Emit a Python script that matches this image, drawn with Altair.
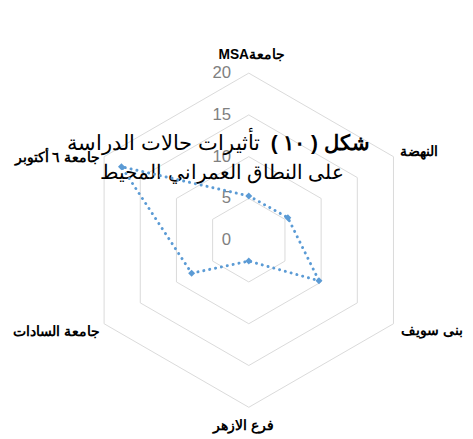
import altair as alt
import pandas as pd
import numpy as np

# ---- data ----
categories = ["جامعةMSA", "النهضة", "بنى سويف", "فرع الازهر", "جامعة السادات", "جامعة ٦ أكتوبر"]
values = [5.3, 5.4, 9.7, 2.5, 7.9, 17.6]
ring_values = [5, 10, 15, 20]
tick_values = [0, 5, 10, 15, 20]
tick_labels = ["0", "5", "10", "15", "20"]
title_bold = "شكل ( ١٠ )"
title_rest = "تأثيرات حالات الدراسة"
title_line2 = "على النطاق العمراني المحيط"

RLE, PDF = "\u202b", "\u202c"
def rtl(s):
    return RLE + s + PDF

n = len(categories)
angles = np.deg2rad([90 - 60 * i for i in range(n)])
R = 20

# scales: 1 unit = 8.5 px, centre at plot (245, 232.5)
W, H = 465, 431
U = 8.5
cx, cy = 245, 232.5
xs = alt.Scale(domain=[-cx / U, (W - cx) / U], nice=False, zero=False)
ys = alt.Scale(domain=[-(H - cy) / U, cy / U], nice=False, zero=False)
X = lambda f: alt.X(f, type="quantitative", scale=xs, axis=None)
Y = lambda f: alt.Y(f, type="quantitative", scale=ys, axis=None)

# grid hexagons
grid_rows = []
for r in ring_values:
    for k in range(n + 1):
        a = angles[k % n]
        grid_rows.append({"ring": r, "o": k, "x": r * np.cos(a), "y": r * np.sin(a)})
grid = alt.Chart(pd.DataFrame(grid_rows)).mark_line(color="#D9D9D9", strokeWidth=1).encode(
    x=X("x"), y=Y("y"), detail="ring:N", order="o:Q")

# tick labels
tick_df = pd.DataFrame({"v": tick_values, "label": tick_labels, "x": [0] * len(tick_values)})
ticks = alt.Chart(tick_df).mark_text(align="right", baseline="middle", dx=-18, fontSize=17,
                                     color="#808080", font="Liberation Sans").encode(
    x=X("x"), y=Y("v"), text="label:N")

# series
ser_rows = []
for k in range(n + 1):
    i = k % n
    ser_rows.append({"o": k, "cat": categories[i], "x": values[i] * np.cos(angles[i]),
                     "y": values[i] * np.sin(angles[i])})
ser_df = pd.DataFrame(ser_rows)
line = alt.Chart(ser_df).mark_line(color="#5B9BD5", strokeWidth=3, strokeDash=[0.1, 6],
                                   strokeCap="round").encode(x=X("x"), y=Y("y"), order="o:Q")
pts = alt.Chart(ser_df.iloc[:n]).mark_point(shape="diamond", filled=True, size=50, opacity=1,
                                            color="#5B9BD5").encode(x=X("x"), y=Y("y"))

# title (two parts on line 1)
t1b = alt.Chart(pd.DataFrame({"t": [rtl(title_bold)]})).mark_text(
    align="right", baseline="middle", fontSize=21, fontWeight="bold", color="#000000",
    font="Liberation Sans").encode(x=alt.value(368), y=alt.value(135), text="t:N")
t1r = alt.Chart(pd.DataFrame({"t": [rtl(title_rest)]})).mark_text(
    align="right", baseline="middle", fontSize=21, color="#000000",
    font="Liberation Sans").encode(x=alt.value(256), y=alt.value(135), text="t:N")
t2 = alt.Chart(pd.DataFrame({"t": [rtl(title_line2)]})).mark_text(
    align="center", baseline="middle", fontSize=20, color="#000000",
    font="Liberation Sans").encode(x=alt.value(218), y=alt.value(164), text="t:N")

# category labels
label_style = [  # align, dx, dy
    ("center", 3, -18),
    ("left", 7, -4.5),
    ("right", 71, 7.5),
    ("center", -5, 19.5),
    ("right", -4, 8.5),
    ("right", -4, 1.5),
]
label_layers = []
for i, (al, ddx, ddy) in enumerate(label_style):
    d = pd.DataFrame({"t": [rtl(categories[i])], "x": [R * np.cos(angles[i])],
                      "y": [R * np.sin(angles[i])]})
    label_layers.append(alt.Chart(d).mark_text(
        align=al, baseline="middle", dx=ddx, dy=ddy, fontSize=14, fontWeight="bold",
        color="#000000", font="Liberation Sans").encode(x=X("x"), y=Y("y"), text="t:N"))

chart = alt.layer(grid, ticks, t1b, t1r, t2, line, pts, *label_layers).properties(
    width=W, height=H, padding=0, autosize=alt.AutoSizeParams(type="none"),
    background="#FFFFFF").configure_view(stroke=None)

chart.save("out.html", embed_options={"renderer": "svg", "actions": False})
